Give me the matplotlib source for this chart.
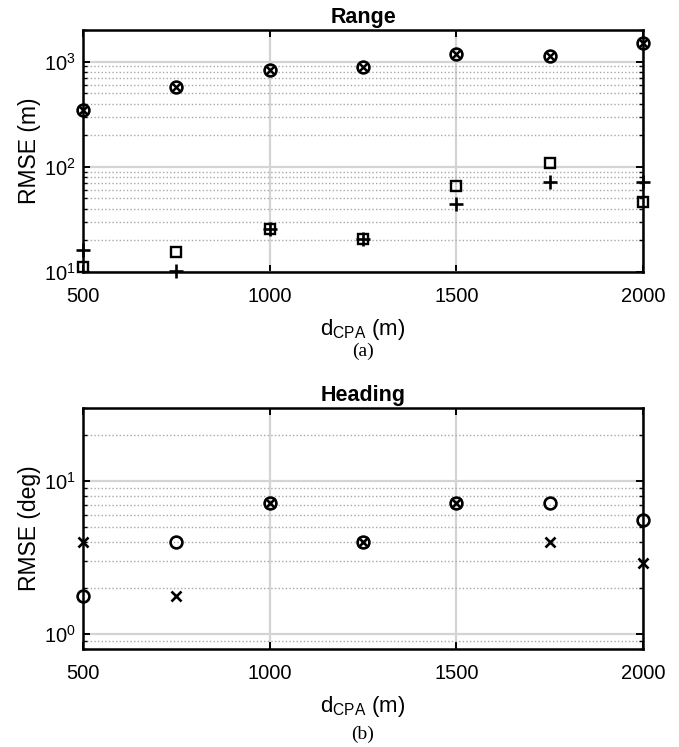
import matplotlib
matplotlib.use("Agg")
import matplotlib.pyplot as plt
from matplotlib.ticker import LogLocator, NullFormatter, FixedLocator

plt.rcParams['font.family'] = ['Liberation Sans', 'DejaVu Sans']
plt.rcParams['mathtext.fontset'] = 'custom'
plt.rcParams['mathtext.rm'] = 'Liberation Sans'

d_cpa = [500, 750, 1000, 1250, 1500, 1750, 2000]

# Range RMSE (m)
range_o = [350, 580, 840, 890, 1190, 1120, 1500]
range_x = [350, 580, 840, 890, 1190, 1120, 1500]
range_s = [11.2, 15.5, 25.5, 20.5, 66, 109, 46.5]
range_p = [16.2, 10.2, 25.5, 20.5, 44, 71, 72]

# Heading RMSE (deg)
head_o = [1.78, 4.0, 7.15, 4.0, 7.15, 7.15, 5.6]
head_x = [4.0, 1.78, 7.15, 4.0, 7.15, 4.0, 2.9]

xticks = [500, 1000, 1500, 2000]

fig = plt.figure(figsize=(6.79, 7.47), dpi=100)
W, H = 679, 747

def px_axes(x0, y0, x1, y1):
    return fig.add_axes([x0 / W, 1 - y1 / H, (x1 - x0) / W, (y1 - y0) / H])

ax1 = px_axes(83, 30, 643, 272)
ax2 = px_axes(83, 408, 643, 649)

def style(ax, ylim):
    ax.set_yscale('log')
    ax.set_xlim(500, 2000)
    ax.set_ylim(*ylim)
    ax.xaxis.set_major_locator(FixedLocator(xticks))
    ax.yaxis.set_major_locator(LogLocator(base=10, numticks=10))
    ax.yaxis.set_minor_locator(LogLocator(base=10, subs=[2, 3, 4, 5, 6, 7, 8, 9], numticks=20))
    ax.yaxis.set_minor_formatter(NullFormatter())
    ax.grid(True, which='major', axis='both', color='#d4d4d4', linewidth=1.6, linestyle='-')
    ax.grid(True, which='minor', axis='y', color='#a8a8a8', linewidth=1.0, linestyle=(0, (1.0, 1.6)))
    ax.set_axisbelow(True)
    ax.tick_params(which='both', direction='in', top=True, right=True, labelsize=14.5, colors='black')
    ax.tick_params(axis='x', pad=11)
    ax.tick_params(axis='y', pad=5)
    ax.tick_params(which='major', length=5, width=1.4)
    ax.tick_params(which='minor', length=3, width=1.0)
    for s in ax.spines.values():
        s.set_linewidth(1.8)
        s.set_color('black')

mk = dict(color='black', linestyle='none', clip_on=False, zorder=5)

style(ax1, (10, 2000))
ax1.plot(d_cpa, range_o, marker='o', markersize=8.5, markerfacecolor='none', markeredgewidth=1.9, **mk)
ax1.plot(d_cpa, range_x, marker='x', markersize=5.5, markeredgewidth=1.8, **mk)
ax1.plot(d_cpa, range_s, marker='s', markersize=7, markerfacecolor='none', markeredgewidth=1.7, **mk)
ax1.plot(d_cpa, range_p, marker='+', markersize=10, markeredgewidth=1.9, **mk)
ax1.set_title('Range', fontsize=15.5, fontweight='bold', pad=5)
ax1.set_ylabel('RMSE (m)', fontsize=16.5, labelpad=2)
ax1.set_xlabel(r'd$_\mathregular{CPA}$ (m)', fontsize=16, labelpad=8)

style(ax2, (0.8, 30))
ax2.plot(d_cpa, head_o, marker='o', markersize=8.5, markerfacecolor='none', markeredgewidth=1.9, **mk)
ax2.plot(d_cpa, head_x, marker='x', markersize=6.5, markeredgewidth=1.9, **mk)
ax2.set_title('Heading', fontsize=15.5, fontweight='bold', pad=5)
ax2.set_ylabel('RMSE (deg)', fontsize=16.5, labelpad=2)
ax2.set_xlabel(r'd$_\mathregular{CPA}$ (m)', fontsize=16, labelpad=8)

fig.text(363 / W, 1 - 351 / H, '(a)', ha='center', va='center', fontsize=14, family='Liberation Serif')
fig.text(363 / W, 1 - 734 / H, '(b)', ha='center', va='center', fontsize=14, family='Liberation Serif')

fig.savefig('out.png', dpi=100)
